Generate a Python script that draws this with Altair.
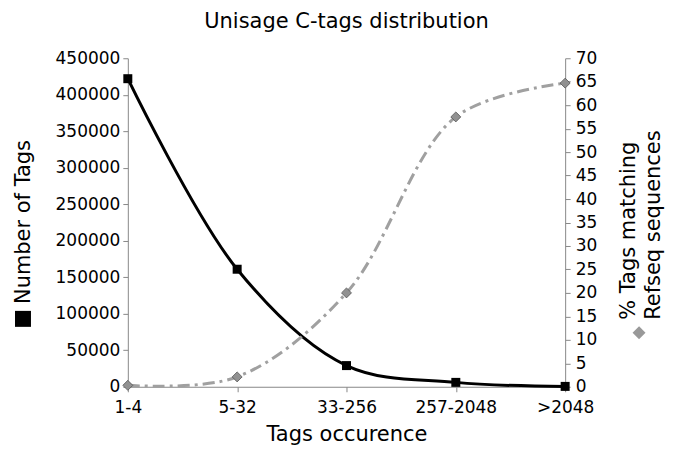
import altair as alt
import pandas as pd

categories = ["1-4", "5-32", "33-256", "257-2048", ">2048"]
num_tags = [422000, 161000, 29000, 6000, 500]
pct_refseq = [0.3, 2.1, 20.0, 57.5, 64.7]

df = pd.DataFrame({"cat": categories, "tags": num_tags, "pct": pct_refseq})

FONT = "DejaVu Sans"
AX = "#888888"
LBL = 17
TTL = 21

x = alt.X("cat:N", sort=categories,
          scale=alt.Scale(type="point", padding=0),
          axis=alt.Axis(title="Tags occurence", labelAngle=0, labelFontSize=LBL,
                        titleFontSize=TTL, titleFontWeight="normal", labelPadding=8,
                        titlePadding=8, domainColor=AX, tickColor=AX, tickSize=5,
                        labelColor="black", titleColor="black", grid=False))

base = alt.Chart(df).encode(x=x)

yl = alt.Y("tags:Q", scale=alt.Scale(domain=[0, 450000]),
           axis=alt.Axis(title=None, values=list(range(0, 450001, 50000)), format="d",
                         labelFontSize=LBL, labelPadding=3, domainColor=AX, tickColor=AX,
                         tickSize=5, labelColor="black", grid=False))
yr = alt.Y("pct:Q", scale=alt.Scale(domain=[0, 70]),
           axis=alt.Axis(title=None, orient="right", values=list(range(0, 71, 5)),
                         labelFontSize=LBL, labelPadding=5, domainColor=AX, tickColor=AX,
                         tickSize=5, labelColor="black", grid=False))

left = alt.layer(
    base.mark_line(color="black", strokeWidth=3, interpolate="catmull-rom").encode(y=yl),
    base.mark_point(shape="square", filled=True, color="black", size=81, opacity=1).encode(y=yl),
)
right = alt.layer(
    base.mark_line(color="#a0a0a0", strokeWidth=3, interpolate="catmull-rom",
                   strokeDash=[12, 5, 3, 5]).encode(y=yr),
    base.mark_point(shape="diamond", filled=True, fill="#919191", stroke="#555555",
                    strokeWidth=0.8, size=100, opacity=1).encode(y=yr),
)

lbl = alt.Chart(pd.DataFrame({"a": [0]}))
left_title = lbl.mark_text(text="Number of Tags", angle=270, fontSize=TTL, font=FONT,
                           align="center", baseline="middle", color="black").encode(
    x=alt.value(-104), y=alt.value(164))
left_sym = lbl.mark_point(shape="square", filled=True, color="black", size=256, opacity=1).encode(
    x=alt.value(-105), y=alt.value(261))
right_t1 = lbl.mark_text(text="% Tags matching", angle=270, fontSize=TTL, font=FONT,
                         align="left", baseline="middle", color="black").encode(
    x=alt.value(502), y=alt.value(262))
right_t2 = lbl.mark_text(text="Refseq sequences", angle=270, fontSize=TTL, font=FONT,
                         align="left", baseline="middle", color="black").encode(
    x=alt.value(527), y=alt.value(262))
right_sym = lbl.mark_point(shape="diamond", filled=True, color="#999999", size=169, opacity=1).encode(
    x=alt.value(512), y=alt.value(275))

chart = alt.layer(left, right, left_title, left_sym, right_t1, right_t2, right_sym).resolve_scale(
    y="independent"
).properties(
    width=438, height=329,
    title=alt.TitleParams("Unisage C-tags distribution", fontSize=TTL, font=FONT,
                          fontWeight="normal", color="black", offset=17),
    autosize=alt.AutoSizeParams(type="none"),
    padding={"left": 120, "top": 50, "right": 100, "bottom": 63},
).configure_view(stroke=None).configure_axis(labelFont=FONT, titleFont=FONT)

chart.save("out.html", embed_options={"renderer": "svg", "actions": False})
